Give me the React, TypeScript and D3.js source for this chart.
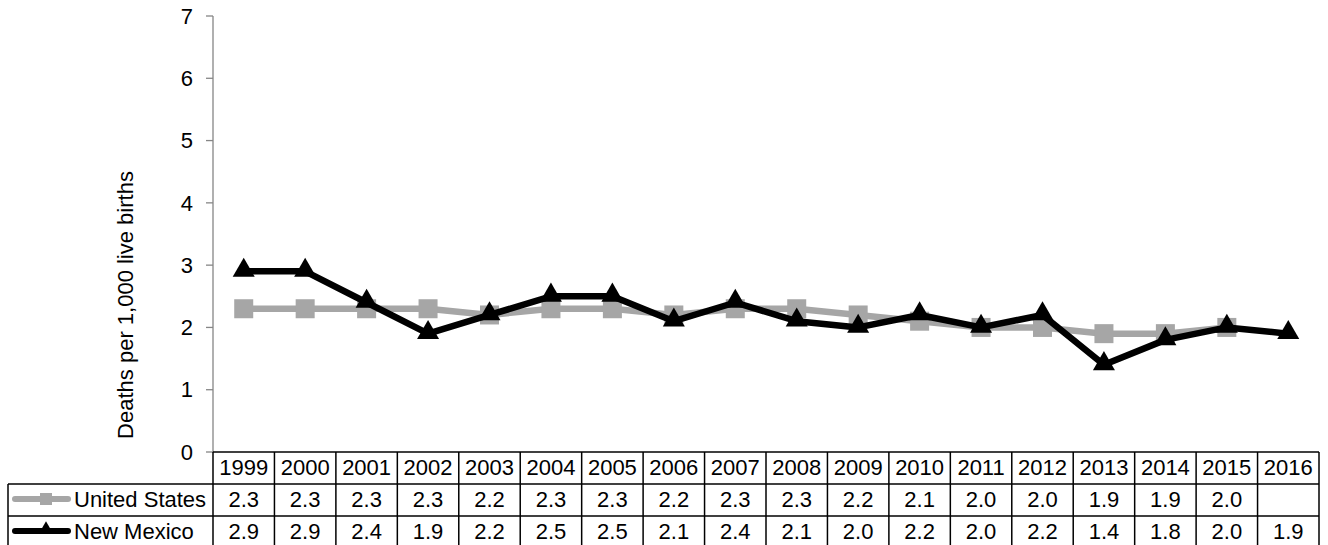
import React from "react";
import * as d3 from "d3";

const years = ["1999","2000","2001","2002","2003","2004","2005","2006","2007","2008","2009","2010","2011","2012","2013","2014","2015","2016"];
const usValues: (number | null)[] = [2.3,2.3,2.3,2.3,2.2,2.3,2.3,2.2,2.3,2.3,2.2,2.1,2.0,2.0,1.9,1.9,2.0,null];
const nmValues: (number | null)[] = [2.9,2.9,2.4,1.9,2.2,2.5,2.5,2.1,2.4,2.1,2.0,2.2,2.0,2.2,1.4,1.8,2.0,1.9];
const yTicks = [0,1,2,3,4,5,6,7];
const seriesNames = ["United States", "New Mexico"];
const yTitle = "Deaths per 1,000 live births";

const W = 1328, H = 545;
const plotL = 213, plotR = 1319, plotT = 16, plotB = 452;
const rowH = 32;
const tableL = 8;
const FONT = "'Liberation Sans', Arial, sans-serif";
const FS = 22;

export default function App() {
  const x = d3.scaleBand<string>().domain(years).range([plotL, plotR]);
  const y = d3.scaleLinear().domain([0, 7]).range([plotB, plotT]);
  const cx = (yr: string) => (x(yr) as number) + x.bandwidth() / 2;

  const line = d3.line<{ yr: string; v: number | null }>()
    .defined(d => d.v != null)
    .x(d => cx(d.yr))
    .y(d => y(d.v as number));

  const usData = years.map((yr, i) => ({ yr, v: usValues[i] }));
  const nmData = years.map((yr, i) => ({ yr, v: nmValues[i] }));
  const tri = d3.symbol().type(d3.symbolTriangle).size(210)();

  const rowTops = [plotB, plotB + rowH, plotB + 2 * rowH];
  const tableBottom = plotB + 3 * rowH + 2;
  const gray = "#A6A6A6";
  const fmt = d3.format(".1f");
  const tc = (i: number) => rowTops[i] + rowH / 2 - 1;

  return (
    <svg width={W} height={H} style={{ position: "absolute", left: 0, top: 0, background: "#fff" }} fontFamily={FONT}>
      <rect x={0} y={0} width={W} height={H} fill="#fff" />
      {/* y axis */}
      <line x1={plotL} x2={plotL} y1={plotT} y2={plotB} stroke="#868686" strokeWidth={1.3} />
      {yTicks.map(t => (
        <g key={t}>
          <line x1={plotL - 7} x2={plotL} y1={y(t)} y2={y(t)} stroke="#868686" strokeWidth={1.3} />
          <text x={plotL - 20} y={y(t)} dy="0.35em" textAnchor="end" fontSize={FS} fill="#000">{t}</text>
        </g>
      ))}
      <text transform={`translate(125,305) rotate(-90)`} textAnchor="middle" dy="0.35em" fontSize={FS} fill="#000">{yTitle}</text>

      {/* series */}
      <path d={line(usData) || ""} fill="none" stroke={gray} strokeWidth={6.5} />
      {usData.filter(d => d.v != null).map(d => (
        <rect key={"u" + d.yr} x={cx(d.yr) - 9.5} y={y(d.v as number) - 9.5} width={19} height={19} fill={gray} />
      ))}
      <path d={line(nmData) || ""} fill="none" stroke="#000" strokeWidth={6.5} strokeLinejoin="round" />
      {nmData.filter(d => d.v != null).map(d => (
        <path key={"n" + d.yr} d={tri || ""} transform={`translate(${cx(d.yr)},${y(d.v as number) - 1})`} fill="#000" />
      ))}

      {/* table */}
      <g stroke="#000" strokeWidth={1.5}>
        <line x1={plotL} x2={plotR} y1={rowTops[0]} y2={rowTops[0]} />
        <line x1={tableL} x2={plotR} y1={rowTops[1]} y2={rowTops[1]} />
        <line x1={tableL} x2={plotR} y1={rowTops[2]} y2={rowTops[2]} />
        <line x1={tableL} x2={plotR} y1={tableBottom} y2={tableBottom} />
        <line x1={tableL} x2={tableL} y1={rowTops[1]} y2={tableBottom} />
        {years.map(yr => (
          <line key={"v" + yr} x1={x(yr) as number} x2={x(yr) as number} y1={rowTops[0]} y2={tableBottom} />
        ))}
        <line x1={plotR} x2={plotR} y1={rowTops[0]} y2={tableBottom} />
      </g>
      {years.map(yr => (
        <text key={"t" + yr} x={cx(yr)} y={tc(0)} dy="0.35em" textAnchor="middle" fontSize={FS}>{yr}</text>
      ))}
      {usData.map(d => d.v != null ? (
        <text key={"ut" + d.yr} x={cx(d.yr)} y={tc(1)} dy="0.35em" textAnchor="middle" fontSize={FS}>{fmt(d.v)}</text>
      ) : null)}
      {nmData.map(d => d.v != null ? (
        <text key={"nt" + d.yr} x={cx(d.yr)} y={tc(2)} dy="0.35em" textAnchor="middle" fontSize={FS}>{fmt(d.v)}</text>
      ) : null)}

      {/* legend keys in row headers */}
      <line x1={15} x2={68} y1={tc(1)} y2={tc(1)} stroke={gray} strokeWidth={6} strokeLinecap="round" />
      <rect x={40} y={tc(1) - 6} width={12} height={12} fill={gray} />
      <text x={74} y={tc(1)} dy="0.35em" fontSize={FS}>{seriesNames[0]}</text>
      <line x1={15} x2={68} y1={tc(2)} y2={tc(2)} stroke="#000" strokeWidth={6} strokeLinecap="round" />
      <path d={d3.symbol().type(d3.symbolTriangle).size(80)() || ""} transform={`translate(46,${tc(2) - 2})`} fill="#000" />
      <text x={74} y={tc(2)} dy="0.35em" fontSize={FS}>{seriesNames[1]}</text>
    </svg>
  );
}
